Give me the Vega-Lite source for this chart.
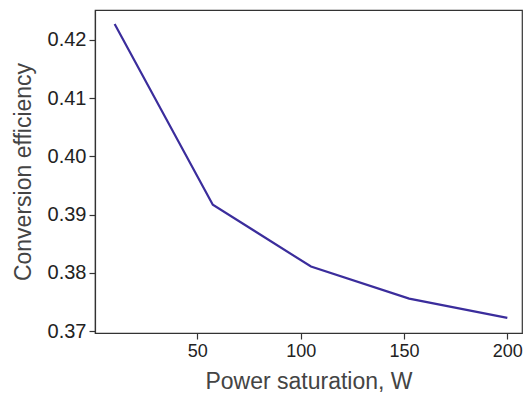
{
  "$schema": "https://vega.github.io/schema/vega-lite/v6.json",
  "width": 427,
  "height": 323,
  "autosize": {"type": "none"},
  "padding": {"left": 95, "top": 10, "right": 1, "bottom": 63},
  "background": "white",
  "config": {
    "view": {"stroke": "#333333", "strokeWidth": 1.2},
    "axis": {
      "labelFont": "Liberation Sans",
      "titleFont": "Liberation Sans",
      "labelFontSize": 18,
      "titleFontSize": 23,
      "titleFontWeight": "normal",
      "labelColor": "#222222",
      "titleColor": "#444444",
      "domainColor": "#333333",
      "tickColor": "#333333",
      "domainWidth": 1.2,
      "tickWidth": 1.2,
      "tickSize": 6,
      "labelPadding": 3,
      "grid": false
    }
  },
  "data": {
    "values": [
      {"power": 10, "eff": 0.4227},
      {"power": 57.5, "eff": 0.3917},
      {"power": 105, "eff": 0.3811},
      {"power": 152.5, "eff": 0.3756},
      {"power": 200, "eff": 0.3723}
    ]
  },
  "mark": {"type": "line", "color": "#3b2d9c", "strokeWidth": 2.2},
  "encoding": {
    "x": {
      "field": "power",
      "type": "quantitative",
      "scale": {"domain": [0.5, 207.1], "nice": false, "zero": false},
      "axis": {"title": "Power saturation, W", "values": [50, 100, 150, 200], "titlePadding": 10, "labelFlush": false}
    },
    "y": {
      "field": "eff",
      "type": "quantitative",
      "scale": {"domain": [0.3697, 0.4251], "nice": false, "zero": false},
      "axis": {"title": "Conversion efficiency", "values": [0.37, 0.38, 0.39, 0.40, 0.41, 0.42], "format": ".2f", "labelFontSize": 20, "titlePadding": 12, "labelFlush": false}
    }
  }
}
